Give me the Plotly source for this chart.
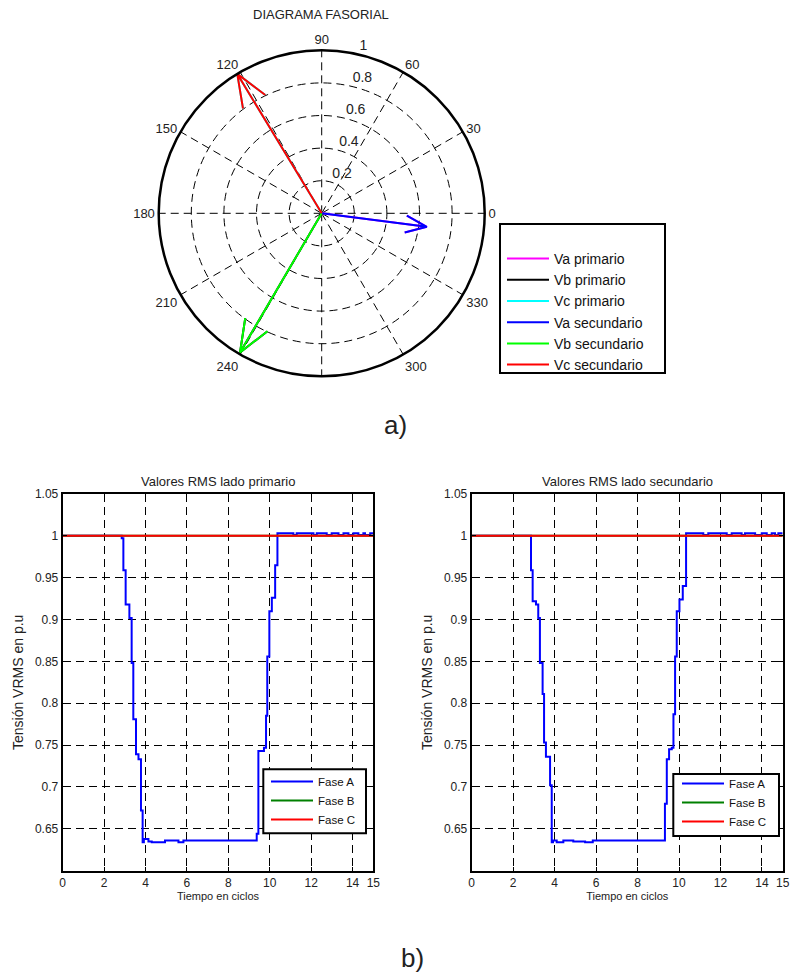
import numpy as np
import plotly.graph_objects as go

W, H = 791, 979

# ---------------- Phasor diagram data ----------------
phasor_names = ["Va primario", "Vb primario", "Vc primario",
                "Va secundario", "Vb secundario", "Vc secundario"]
phasor_colors = ["#ff00ff", "#000000", "#00ffff", "#0000ff", "#00ff00", "#ff0000"]
phasor_mag = [0.65, 0.99, 1.0, 0.65, 0.99, 1.0]
phasor_ang = [-7.3, 239.6, 121.2, -7.3, 239.6, 121.2]

radial_ticks = [0.2, 0.4, 0.6, 0.8, 1.0]
radial_labels = ["0.2", "0.4", "0.6", "0.8", "1"]
angle_ticks = [0, 30, 60, 90, 120, 150, 180, 210, 240, 270, 300, 330]
angle_labels = ["0", "30", "60", "90", "120", "150", "180", "210", "240", "", "300", "330"]

# ---------------- RMS data ----------------
t_prim = [0, 2.85, 2.93, 3.04, 3.22, 3.33, 3.41, 3.54, 3.66, 3.78, 3.86, 3.92, 4.14,
          4.30, 4.94, 5.59, 5.83, 9.37, 9.45, 9.72, 9.82, 9.88, 9.98, 10.10, 10.26,
          10.37, 11.14, 11.30, 12.11, 12.27, 12.75, 12.99, 13.32, 13.56, 13.80, 14.04,
          14.28, 14.52, 14.60, 14.85, 15.0]
va_prim = [1.0, 0.997, 0.959, 0.918, 0.902, 0.848, 0.781, 0.739, 0.733, 0.672, 0.634,
           0.638, 0.635, 0.634, 0.636, 0.634, 0.636, 0.644, 0.743, 0.747, 0.785, 0.856,
           0.910, 0.926, 0.965, 1.003, 1.001, 1.003, 1.001, 1.003, 1.001, 1.003, 1.001,
           1.003, 1.001, 1.003, 1.001, 1.003, 1.001, 1.003, 1.003]

t_sec = [0, 2.86, 2.94, 3.10, 3.21, 3.29, 3.42, 3.49, 3.58, 3.78, 3.86, 3.92, 4.10,
         4.42, 4.90, 5.47, 5.84, 9.32, 9.41, 9.52, 9.65, 9.73, 9.81, 9.89, 10.02,
         10.18, 10.34, 11.17, 11.41, 12.30, 12.54, 13.02, 13.18, 13.67, 13.99, 14.23,
         14.47, 14.63, 14.79, 15.0]
va_sec = [1.0, 0.959, 0.922, 0.918, 0.902, 0.848, 0.811, 0.753, 0.736, 0.702, 0.634,
          0.636, 0.634, 0.636, 0.635, 0.634, 0.636, 0.680, 0.733, 0.745, 0.747, 0.787,
          0.856, 0.910, 0.924, 0.940, 1.003, 1.001, 1.003, 1.001, 1.003, 1.001, 1.003,
          1.001, 1.003, 1.001, 1.003, 1.001, 1.003, 1.003]

t_const = [0, 15]
vb_const = [1.0, 1.0]
vc_const = [1.0, 1.0]

rms_y_ticks = [0.65, 0.7, 0.75, 0.8, 0.85, 0.9, 0.95, 1.0, 1.05]
rms_y_labels = ["0.65", "0.7", "0.75", "0.8", "0.85", "0.9", "0.95", "1", "1.05"]
rms_x_ticks = [0, 2, 4, 6, 8, 10, 12, 14, 15]

FONT = "Arial, Liberation Sans, sans-serif"
DASH = "8px,5px"

fig = go.Figure()

# phasor arrows (MATLAB compass style)
arrow_shape = np.array([0, 1, 0.8 + 0.08j, 1, 0.8 - 0.08j])
for name, col, m, a in zip(phasor_names, phasor_colors, phasor_mag, phasor_ang):
    z = m * np.exp(1j * np.deg2rad(a))
    pts = arrow_shape * z
    fig.add_trace(go.Scatterpolar(
        r=np.abs(pts), theta=np.rad2deg(np.angle(pts)), mode="lines",
        line=dict(color=col, width=2), name=name, legend="legend",
        subplot="polar", showlegend=True))

# radial tick labels
fig.add_trace(go.Scatterpolar(
    r=radial_ticks, theta=[78] * len(radial_ticks), mode="text",
    text=[" " + s for s in radial_labels], textposition="top right",
    textfont=dict(family=FONT, size=14, color="#222"),
    showlegend=False, subplot="polar", cliponaxis=False))

# RMS traces
for (tx, ax_x, ax_y, lg, ya) in [(t_prim, "x", "y", "legend2", va_prim),
                                 (t_sec, "x2", "y2", "legend3", va_sec)]:
    fig.add_trace(go.Scatter(x=tx, y=ya, mode="lines", line=dict(color="#0000ff", width=2),
                             line_shape="hv", name="Fase A", xaxis=ax_x, yaxis=ax_y, legend=lg))
    fig.add_trace(go.Scatter(x=t_const, y=vb_const, mode="lines", line=dict(color="#008000", width=2),
                             name="Fase B", xaxis=ax_x, yaxis=ax_y, legend=lg))
    fig.add_trace(go.Scatter(x=t_const, y=vc_const, mode="lines", line=dict(color="#ff0000", width=2),
                             name="Fase C", xaxis=ax_x, yaxis=ax_y, legend=lg))

def px_x(p):
    return p / W

def px_y(p):
    return 1 - p / H

cx, cy, R = 321.7, 213.3, 163.0

axis_common = dict(showline=True, linecolor="black", linewidth=2, mirror="ticks",
                   ticks="inside", ticklen=4, tickcolor="black", automargin=False,
                   ticklabeloverflow="allow",
                   showgrid=True, gridcolor="black", gridwidth=1.3, griddash=DASH,
                   zeroline=False, tickfont=dict(family=FONT, size=12, color="#222"))

def ann(text, x, y, size):
    return dict(text=text, x=px_x(x), y=px_y(y), xref="paper", yref="paper",
                xanchor="center", yanchor="middle", showarrow=False,
                font=dict(family=FONT, size=size, color="#222"))

fig.update_layout(
    width=W, height=H, margin=dict(l=0, r=0, t=0, b=0, autoexpand=False),
    paper_bgcolor="white", plot_bgcolor="white",
    font=dict(family=FONT, color="#222"),
    polar=dict(
        domain=dict(x=[px_x(cx - R), px_x(cx + R)], y=[px_y(cy + R), px_y(cy - R)]),
        bgcolor="white",
        radialaxis=dict(range=[0, 1], tickvals=radial_ticks[:-1], showticklabels=False,
                        ticks="", showline=False, gridcolor="black", gridwidth=1.3,
                        griddash=DASH, angle=80),
        angularaxis=dict(direction="counterclockwise", rotation=0,
                         tickvals=angle_ticks, ticktext=angle_labels, ticks="",
                         showline=True, linecolor="black", linewidth=2.5,
                         gridcolor="black", gridwidth=1.3, griddash=DASH,
                         tickfont=dict(family=FONT, size=13, color="#222")),
    ),
    xaxis=dict(domain=[px_x(62.7), px_x(373.3)], range=[0, 15], tickvals=rms_x_ticks,
               anchor="y", title=dict(text="Tiempo en ciclos", font=dict(size=11), standoff=2),
               **axis_common),
    yaxis=dict(domain=[px_y(870.7), px_y(494)], range=[0.6, 1.05], tickvals=rms_y_ticks,
               ticktext=rms_y_labels, anchor="x",
               title=dict(text="Tensión VRMS en p.u", font=dict(size=14), standoff=8),
               **axis_common),
    xaxis2=dict(domain=[px_x(471.7), px_x(782.7)], range=[0, 15], tickvals=rms_x_ticks,
                anchor="y2", title=dict(text="Tiempo en ciclos", font=dict(size=11), standoff=2),
                **axis_common),
    yaxis2=dict(domain=[px_y(870.7), px_y(494)], range=[0.6, 1.05], tickvals=rms_y_ticks,
                ticktext=rms_y_labels, anchor="x2",
                title=dict(text="Tensión VRMS en p.u", font=dict(size=14), standoff=8),
                **axis_common),
    legend=dict(x=px_x(502), y=px_y(243), xanchor="left", yanchor="top",
                bgcolor="rgba(0,0,0,0)", borderwidth=0, itemwidth=42,
                font=dict(family=FONT, size=14, color="#111"), tracegroupgap=0),
    legend2=dict(x=px_x(266), y=px_y(767), xanchor="left", yanchor="top",
                 bgcolor="rgba(0,0,0,0)", borderwidth=0, itemwidth=42,
                 font=dict(family=FONT, size=11.5, color="#111")),
    legend3=dict(x=px_x(677), y=px_y(769), xanchor="left", yanchor="top",
                 bgcolor="rgba(0,0,0,0)", borderwidth=0, itemwidth=42,
                 font=dict(family=FONT, size=11.5, color="#111")),
    shapes=[
        dict(type="rect", xref="paper", yref="paper", x0=px_x(500), x1=px_x(665),
             y0=px_y(373), y1=px_y(224), line=dict(color="black", width=2), fillcolor="white",
             layer="above"),
        dict(type="rect", xref="paper", yref="paper", x0=px_x(263.3), x1=px_x(366),
             y0=px_y(833.3), y1=px_y(769.3), line=dict(color="black", width=2), fillcolor="white",
             layer="above"),
        dict(type="rect", xref="paper", yref="paper", x0=px_x(673.3), x1=px_x(779),
             y0=px_y(836), y1=px_y(774), line=dict(color="black", width=2), fillcolor="white",
             layer="above"),
    ],
    annotations=[
        ann("DIAGRAMA FASORIAL", 321, 14, 13),
        ann("Valores RMS lado primario", 218, 481, 13),
        ann("Valores RMS lado secundario", 627, 481, 13),
        ann("a)", 395, 425, 26),
        ann("b)", 412, 958, 26),
    ],
)

fig.write_html("out.html", config={"displayModeBar": False},
               post_script="document.body.style.margin='0';document.body.style.overflow='hidden';")
